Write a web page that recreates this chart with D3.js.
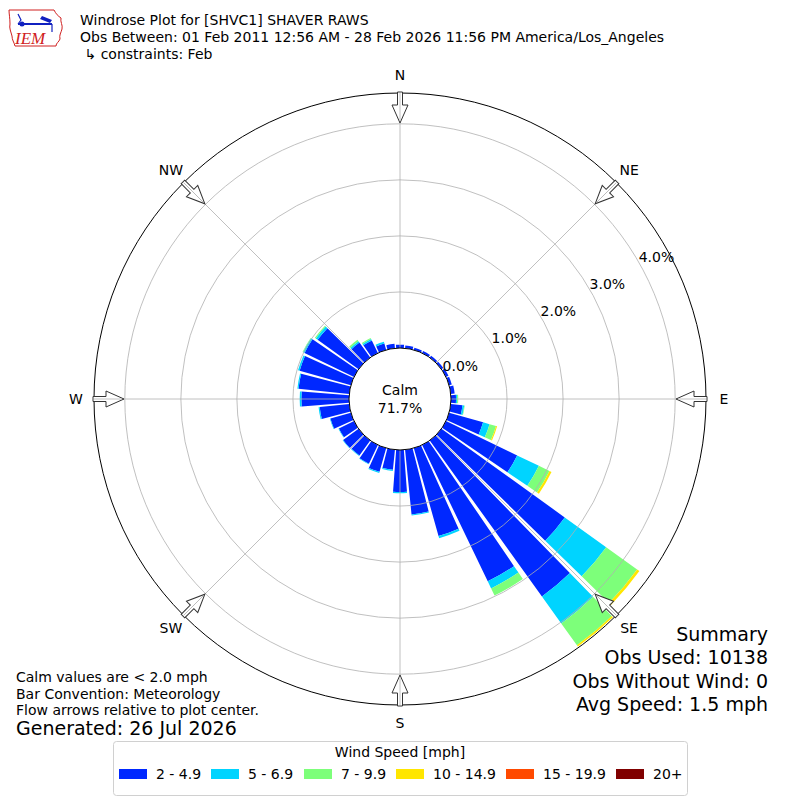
<!DOCTYPE html>
<html>
<head>
<meta charset="utf-8">
<script src="https://cdn.jsdelivr.net/npm/d3@7"></script>
<style>
  body { margin: 0; background: #fff; }
  text { font-family: "DejaVu Sans", sans-serif; fill: #000; }
</style>
</head>
<body>
<div id="chart"></div>
<script>
// direction bins (deg, meteorological: direction wind comes from)
const directions = [0, 10, 20, 30, 40, 50, 60, 70, 80, 90, 100, 110, 120, 130, 140, 150, 160, 170,
                    180, 190, 200, 210, 220, 230, 240, 250, 260, 270, 280, 290, 300, 310, 320, 330, 340, 350];
const speedBins = ['2 - 4.9', '5 - 6.9', '7 - 9.9', '10 - 14.9', '15 - 19.9', '20+'];
const binColors = ['#0028ff', '#00d4ff', '#7dff7a', '#ffe600', '#ff4a00', '#800000'];

// percent of observations per direction, one array per speed bin
const s2to5 = [0.06, 0.05, 0.04, 0.04, 0.04, 0.04, 0.05, 0.05, 0.07, 0.09, 0.21, 0.63, 1.41, 2.71, 3.43, 2.70, 1.63, 1.16,
               0.75, 0.36, 0.44, 0.37, 0.33, 0.34, 0.30, 0.38, 0.53, 0.85, 0.91, 0.95, 0.98, 0.90, 0.33, 0.25, 0.12, 0.08];
const s5to7 = [0, 0, 0, 0, 0, 0, 0, 0, 0, 0.02, 0.03, 0.12, 0.43, 0.91, 0.59, 0.14, 0.04, 0.02,
               0.02, 0.02, 0.02, 0.01, 0.01, 0.01, 0.01, 0.01, 0.02, 0.03, 0.02, 0.03, 0.03, 0.04, 0.03, 0.03, 0.03, 0];
const s7to10 = [0, 0, 0, 0, 0, 0, 0, 0, 0, 0.02, 0.01, 0.12, 0.21, 0.68, 0.48, 0.14, 0, 0,
                0, 0, 0, 0, 0, 0, 0, 0, 0, 0, 0, 0, 0.01, 0.02, 0.03, 0.02, 0, 0];
const s10to15 = [0, 0, 0, 0, 0, 0, 0, 0, 0, 0, 0, 0.02, 0.04, 0.05, 0.03, 0, 0, 0,
                 0, 0, 0, 0, 0, 0, 0, 0, 0, 0, 0, 0, 0, 0, 0, 0, 0, 0];
const s15to20 = directions.map(() => 0);
const s20plus = directions.map(() => 0);

const ringTicks = [0, 1, 2, 3, 4];
const compass = ['N', 'NE', 'E', 'SE', 'S', 'SW', 'W', 'NW'];
const compassDeg = [0, 45, 90, 135, 180, 225, 270, 315];

const width = 800, height = 800;
const cx = 400, cy = 399;
const calmR = 51, outerR = 306, rMax = 4.55;
const barWidthDeg = 8.6;

const svg = d3.select('#chart').append('svg')
    .attr('width', width)
    .attr('height', height);

const r = d3.scaleLinear().domain([0, rMax]).range([calmR, outerR]);
const ang = d3.scaleLinear().domain([0, 360]).range([0, 2 * Math.PI]);

// table for the stack
const series = [s2to5, s5to7, s7to10, s10to15, s15to20, s20plus];
const table = directions.map((d, i) => {
    const row = { dir: d };
    speedBins.forEach((b, j) => { row[b] = series[j][i]; });
    return row;
});
const stacked = d3.stack().keys(speedBins)(table);

const plot = svg.append('g').attr('transform', `translate(${cx},${cy})`);

const arc = d3.arc();
const half = ang(barWidthDeg / 2);

plot.selectAll('g.layer')
    .data(stacked)
    .enter()
    .append('g')
    .attr('class', 'layer')
    .attr('fill', (d, i) => binColors[i])
    .selectAll('path')
    .data(d => d.filter(p => p[1] - p[0] > 0))
    .enter()
    .append('path')
    .attr('d', p => arc({
        innerRadius: r(p[0]),
        outerRadius: r(p[1]),
        startAngle: ang(p.data.dir) - half,
        endAngle: ang(p.data.dir) + half
    }));

// grid over the bars, like matplotlib does
plot.selectAll('circle.ring')
    .data(ringTicks.filter(t => t > 0))
    .enter()
    .append('circle')
    .attr('class', 'ring')
    .attr('r', d => r(d))
    .attr('fill', 'none')
    .attr('stroke', '#b0b0b0')
    .attr('stroke-width', 0.8);

plot.selectAll('line.spoke')
    .data(compassDeg)
    .enter()
    .append('line')
    .attr('class', 'spoke')
    .attr('x1', d => calmR * Math.sin(ang(d)))
    .attr('y1', d => -calmR * Math.cos(ang(d)))
    .attr('x2', d => outerR * Math.sin(ang(d)))
    .attr('y2', d => -outerR * Math.cos(ang(d)))
    .attr('stroke', '#b0b0b0')
    .attr('stroke-width', 0.8);

plot.append('circle')
    .attr('r', outerR)
    .attr('fill', 'none')
    .attr('stroke', '#000')
    .attr('stroke-width', 1);

plot.append('circle')
    .attr('r', calmR)
    .attr('fill', '#fff')
    .attr('stroke', '#000')
    .attr('stroke-width', 1);

plot.append('text')
    .attr('text-anchor', 'middle')
    .attr('y', -4)
    .style('font-size', '14px')
    .text('Calm');
plot.append('text')
    .attr('text-anchor', 'middle')
    .attr('y', 14)
    .style('font-size', '14px')
    .text('71.7%');

// ring labels
plot.selectAll('text.rlabel')
    .data(ringTicks)
    .enter()
    .append('text')
    .attr('class', 'rlabel')
    .attr('x', d => (r(d) + 18) * Math.sin(ang(61)))
    .attr('y', d => -(r(d) + 18) * Math.cos(ang(61)))
    .attr('text-anchor', 'middle')
    .attr('dominant-baseline', 'central')
    .style('font-size', '14px')
    .text(d => d.toFixed(1) + '%');

// flow arrows at the compass points
const arrowPts = [[307, -2.5], [294, -2.5], [294, -8], [276, 0], [294, 8], [294, 2.5], [307, 2.5]];
plot.selectAll('path.arrow')
    .data(compassDeg)
    .enter()
    .append('path')
    .attr('class', 'arrow')
    .attr('d', 'M' + arrowPts.map(p => `${p[1]},${-p[0]}`).join('L') + 'Z')
    .attr('transform', d => `rotate(${d})`)
    .attr('fill', '#fff')
    .attr('stroke', '#333')
    .attr('stroke-width', 1);

plot.selectAll('line.arrowline')
    .data(compassDeg)
    .enter()
    .append('line')
    .attr('x1', 0).attr('x2', 0)
    .attr('y1', -306).attr('y2', -278)
    .attr('transform', d => `rotate(${d})`)
    .attr('stroke', '#b0b0b0')
    .attr('stroke-width', 0.8);

plot.selectAll('text.compass')
    .data(compass)
    .enter()
    .append('text')
    .attr('class', 'compass')
    .attr('x', (d, i) => 324 * Math.sin(ang(compassDeg[i])))
    .attr('y', (d, i) => -324 * Math.cos(ang(compassDeg[i])))
    .attr('text-anchor', 'middle')
    .attr('dominant-baseline', 'central')
    .style('font-size', '14px')
    .text(d => d);

// header
const titleLines = ['Windrose Plot for [SHVC1] SHAVER RAWS',
    'Obs Between: 01 Feb 2011 12:56 AM - 28 Feb 2026 11:56 PM America/Los_Angeles',
    ' \u21b3 constraints: Feb'];
svg.selectAll('text.title')
    .data(titleLines)
    .enter()
    .append('text')
    .attr('class', 'title')
    .attr('x', 80)
    .attr('y', (d, i) => 25 + i * 17)
    .attr('xml:space', 'preserve')
    .style('white-space', 'pre')
    .style('font-size', '14px')
    .text(d => d);

// logo
const logo = svg.append('g').attr('transform', 'translate(6,6)');
logo.append('path')
    .attr('d', 'M3,4 L48,4 C50,8 52,10 55,12 C54,16 57,19 56,23 C55,27 53,29 54,33 C53,36 50,37 50,40 L9,40 C8,36 6,34 6,30 C5,26 3,22 4,18 C4,12 3,8 3,4 Z')
    .attr('fill', 'none')
    .attr('stroke', '#d02020')
    .attr('stroke-width', 1);
logo.append('line').attr('x1', 12).attr('y1', 18).attr('x2', 46).attr('y2', 18)
    .attr('stroke', '#1020c0').attr('stroke-width', 2);
logo.append('path').attr('d', 'M36,10 L46,14 L44,17 L34,13 Z').attr('fill', '#1020c0');
logo.append('path').attr('d', 'M12,8 L15,14 L12,18').attr('fill', 'none').attr('stroke', '#1020c0').attr('stroke-width', 1.2);
logo.append('circle').attr('cx', 16).attr('cy', 18).attr('r', 2.5).attr('fill', '#1020c0');
logo.append('line').attr('x1', 46).attr('y1', 18).attr('x2', 46).attr('y2', 26)
    .attr('stroke', '#1020c0').attr('stroke-width', 1.2);
logo.append('text')
    .attr('x', 9).attr('y', 38)
    .style('font-family', '"Liberation Serif", serif')
    .style('font-style', 'italic')
    .style('font-size', '17px')
    .style('fill', '#d02020')
    .text('IEM');

// footer notes
const notes = ['Calm values are < 2.0 mph', 'Bar Convention: Meteorology', 'Flow arrows relative to plot center.'];
svg.selectAll('text.note')
    .data(notes)
    .enter()
    .append('text')
    .attr('class', 'note')
    .attr('x', 16)
    .attr('y', (d, i) => 682 + i * 16.5)
    .style('font-size', '14px')
    .text(d => d);
svg.append('text')
    .attr('x', 16).attr('y', 735)
    .style('font-size', '19px')
    .text('Generated: 26 Jul 2026');

const summary = ['Summary', 'Obs Used: 10138', 'Obs Without Wind: 0', 'Avg Speed: 1.5 mph'];
svg.selectAll('text.summary')
    .data(summary)
    .enter()
    .append('text')
    .attr('class', 'summary')
    .attr('x', 768)
    .attr('y', (d, i) => 641 + i * 23.4)
    .attr('text-anchor', 'end')
    .style('font-size', '19px')
    .text(d => d);

// legend
const legend = svg.append('g');
legend.append('rect')
    .attr('x', 113.5).attr('y', 741.5)
    .attr('width', 574).attr('height', 54)
    .attr('rx', 3)
    .attr('fill', '#fff')
    .attr('stroke', '#d0d0d0');
legend.append('text')
    .attr('x', 400).attr('y', 757)
    .attr('text-anchor', 'middle')
    .style('font-size', '14px')
    .text('Wind Speed [mph]');
const legendX = [119, 211, 304, 396, 506, 616];
const items = legend.selectAll('g.item')
    .data(speedBins)
    .enter()
    .append('g')
    .attr('transform', (d, i) => `translate(${legendX[i]},0)`);
items.append('rect')
    .attr('y', 769).attr('width', 28).attr('height', 10)
    .attr('fill', (d, i) => binColors[i]);
items.append('text')
    .attr('x', 37).attr('y', 779)
    .style('font-size', '14px')
    .text(d => d);
</script>
</body>
</html>
